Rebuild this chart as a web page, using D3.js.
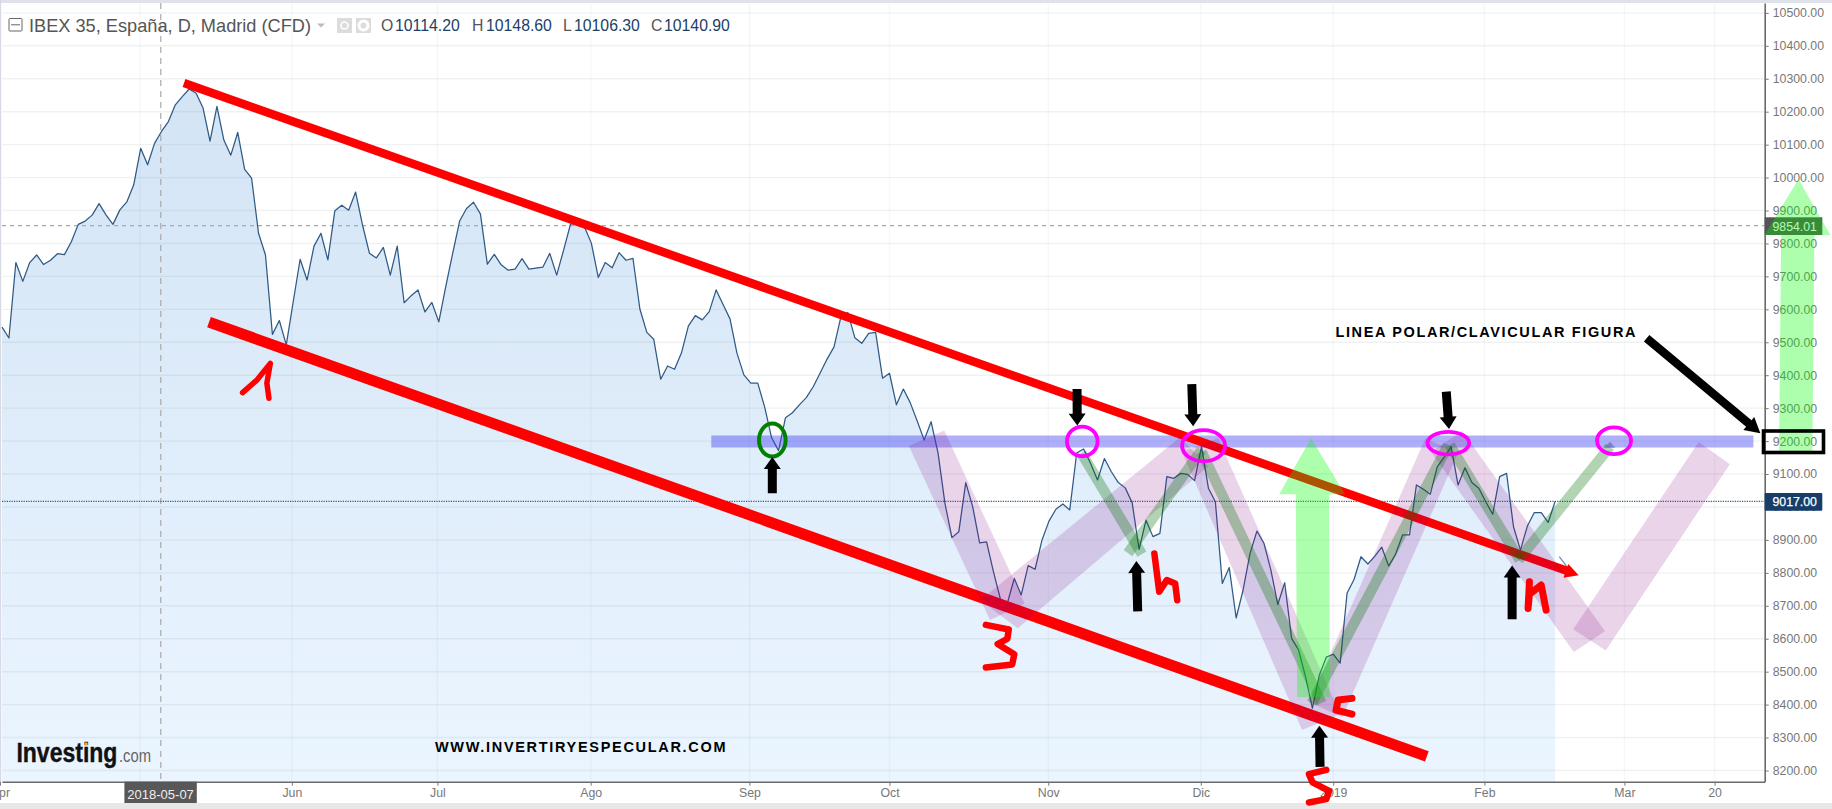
<!DOCTYPE html>
<html><head><meta charset="utf-8">
<script src="https://cdn.jsdelivr.net/npm/d3@7/dist/d3.min.js"></script>
<style>html,body{margin:0;padding:0;background:#fff;overflow:hidden}svg{display:block}text{font-family:"Liberation Sans",Arial,sans-serif}</style>
</head><body><svg id="c" width="1832" height="809"></svg>
<script>
// ---- closing prices, one per trading bar ----
const closes=[9546,9513,9742,9685,9742,9765,9736,9749,9769,9766,9805,9858,9868,9886,9921,9887,9858,9902,9926,9978,
10089,10039,10104,10140,10170,10221,10246,10269,10256,10211,10111,10216,10114,10068,10137,10025,9998,9831,9765,9524,
9566,9492,9623,9752,9689,9792,9831,9750,9899,9916,9901,9956,9856,9770,9756,9788,9704,9792,9620,9641,
9659,9592,9621,9562,9669,9770,9868,9906,9925,9890,9737,9767,9735,9719,9722,9754,9722,9725,9728,9770,
9704,9780,9859,9863,9851,9801,9697,9742,9726,9772,9749,9755,9601,9530,9509,9388,9428,9418,9468,9550,
9581,9568,9593,9659,9615,9571,9467,9401,9376,9376,9303,9210,9171,9271,9286,9310,9332,9365,9407,9449,
9486,9578,9590,9514,9497,9527,9530,9391,9406,9310,9358,9316,9261,9203,9259,9164,9011,8907,8925,9074,
9001,8891,8894,8803,8720,8708,8783,8733,8822,8811,8900,8957,8993,9009,8991,9164,9176,9133,9082,9147,
9107,9074,9058,9013,8871,8960,8910,8920,9092,9087,9102,9099,9080,9183,9057,9016,8768,8816,8663,8748,
8859,8927,8890,8809,8704,8770,8601,8566,8485,8389,8490,8544,8553,8526,8739,8780,8849,8827,8851,8878,
8821,8857,8915,8915,9067,9054,9039,9122,9151,9183,9067,9119,9074,9057,9016,8978,9092,9102,8940,8869,
8942,8983,8983,8953,9017];
const strayBars=[224.6,225.7], strayPrices=[8849,8819];
// ---- axes ----
const xTickBars=[-0.3,19.9,41.8,62.8,84.9,107.8,128,150.9,172.9,192,213.8,234,247];
const xTickLabels=["Apr","","Jun","Jul","Ago","Sep","Oct","Nov","Dic","2019","Feb","Mar","20"];
const yTicks=d3.range(8200,10501,100);
const lastPrice=9017, markPrice=9854.01, crossBar=22.9, crossLabel="2018-05-07";
const titleText="IBEX 35, España, D, Madrid (CFD)";
const ohlcNames=["O","H","L","C"], ohlcValues=["10114.20","10148.60","10106.30","10140.90"];
// ---- drawn analysis, as [bar, price] ----
const upperTrend=[[26.25,10287],[226.2,8802.5]];
const upperHead=[[227.4,8793],[225.9,8827],[225.2,8785]];
const lowerTrend=[[29.86,9561],[205.5,8243]];
const neckBand=[[102.3,9199],[252.6,9199]];
const purpleBands=[
 [[130.8,9185],[135.9,9232],[147.5,8707],[142.5,8657]],
 [[141.1,8717],[146.5,8632],[174,9124],[169.9,9212]],
 [[170.2,9167],[175.4,9209],[193,8371],[187.5,8323]],
 [[188.5,8408],[193.3,8362],[210,9164],[205.3,9209]],
 [[206.1,9167],[210.6,9231],[231.2,8623],[226.7,8560]],
 [[226.6,8629],[231.3,8564],[249.2,9130],[244.7,9197]]];
const greenLegs=[
 [[155.7,9163],[164.4,8857]],[[162.4,8860],[173,9173]],[[173,9168],[190.3,8405]],
 [[188.9,8404],[208.6,9188]],[[208.8,9188],[218.9,8839]],[[218.7,8839],[231.9,9183]]];
const targetArrowMid=[[188.8,9209],[193.7,9039],[191.4,9039],[191.5,8422],[186.8,8422],[186.6,9039],[184.2,9039]];
const targetArrowAxis=[[259.1,9995],[263.7,9826],[261.4,9826],[261.1,9168],[256.3,9168],[256.6,9826],[254.2,9826]];
const magentaRings=[[155.8,9199,15.3,14.8],[173.3,9186,21.5,15.5],[208.6,9194,20.8,11.3],[232.5,9201,17,13.3]];
const greenRing=[111.1,9203,13.3,16.5];
const blackArrows=[
 [[111.1,9042],[111.1,9152]],[[155.05,9358],[155.08,9247]],[[171.6,9373],[171.8,9245]],
 [[208.3,9350],[208.7,9237]],[[163.8,8683],[163.6,8836]],[[217.8,8659],[217.8,8822]],[[190.1,8211],[190,8336]]];
const longArrow=[[237.2,9512],[253.6,9224]];
const scribbles=[
 {w:5.5,p:[[34.7,9347],[36.8,9386],[38.7,9436],[38.2,9376],[38.5,9330]]},
 {w:6.5,p:[[141.9,8642],[145.2,8628],[145,8600],[143.6,8584],[146,8553],[145.7,8522],[141.9,8513]]},
 {w:6.5,p:[[166.2,8859],[166.9,8743],[168,8778],[169.2,8768],[169.5,8717]]},
 {w:7,p:[[194.7,8419],[192.7,8414],[192.4,8383],[194.7,8371]]},
 {w:7,p:[[220.3,8773],[220.1,8692],[220.3,8735],[222,8763],[222.7,8687]]},
 {w:6.5,p:[[191,8202],[188.5,8189],[189,8164],[191.4,8138],[191,8113],[188.5,8103]]}];
const capPatch=[[231.1,9180],[231.9,9198],[232.7,9180]];

// ---- scales ----
const svg=d3.select("#c");
const x=d3.scaleLinear().domain([0,254.2]).range([2,1764.5]);
const y=d3.scaleLinear().domain([8166,10530]).range([781.7,3]);
const pt=d=>[x(d[0]),y(d[1])];
const ln=d3.line();
const path=a=>ln(a.map(pt));
const closed=a=>path(a)+"Z";
const idx=closes.map((_,i)=>i);

// ---- frame ----
svg.append("rect").attr("width",1832).attr("height",809).attr("fill","#fff");
svg.append("rect").attr("x",0).attr("y",0).attr("width",1832).attr("height",3).attr("fill","#dfe2ea");
svg.append("rect").attr("x",0).attr("y",0).attr("width",1.2).attr("height",782).attr("fill","#d7dae3");
svg.append("rect").attr("x",0).attr("y",803).attr("width",1832).attr("height",6).attr("fill","#e7e7e7");

// ---- area ----
const defs=svg.append("defs");
const g=defs.append("linearGradient").attr("id","fill").attr("gradientUnits","userSpaceOnUse").attr("x1",0).attr("x2",0).attr("y1",85).attr("y2",781);
g.append("stop").attr("offset",0).attr("stop-color","#d3e4f5");
g.append("stop").attr("offset",1).attr("stop-color","#ebf5ff");
svg.append("path").attr("fill","url(#fill)")
  .attr("d",d3.area().x(i=>x(i)).y0(781.7).y1(i=>y(closes[i]))(idx));

// ---- grid ----
const grid=svg.append("g").attr("stroke","rgba(110,120,130,0.10)").attr("stroke-width",1.4);
yTicks.forEach(v=>grid.append("line").attr("x1",2).attr("x2",1764).attr("y1",y(v)).attr("y2",y(v)));
xTickBars.slice(1).forEach(b=>grid.append("line").attr("x1",x(b)).attr("x2",x(b)).attr("y1",3).attr("y2",781).attr("stroke","rgba(110,120,130,0.06)"));

// ---- reference lines ----
svg.append("line").attr("x1",2).attr("x2",1764).attr("y1",y(markPrice)).attr("y2",y(markPrice))
  .attr("stroke","#a9a9a9").attr("stroke-width",1.2).attr("stroke-dasharray","4 4");
svg.append("line").attr("x1",x(crossBar)).attr("x2",x(crossBar)).attr("y1",3).attr("y2",781)
  .attr("stroke","#a9a9a9").attr("stroke-width",1.2).attr("stroke-dasharray","6 5");
svg.append("line").attr("x1",2).attr("x2",1764).attr("y1",y(lastPrice)).attr("y2",y(lastPrice))
  .attr("stroke","#2f5b85").attr("stroke-width",1.2).attr("stroke-dasharray","1.2 1.2");

// ---- price line ----
svg.append("path").attr("fill","none").attr("stroke","#2f5a85").attr("stroke-width",1.25).attr("stroke-linejoin","round")
  .attr("d",d3.line().x(i=>x(i)).y(i=>y(closes[i]))(idx));
svg.append("path").attr("fill","none").attr("stroke","#6f8fc8").attr("stroke-width",1.3)
  .attr("d",path(strayBars.map((b,i)=>[b,strayPrices[i]])));

// ---- axes ----
const axX=svg.append("g").attr("transform","translate(0,781.7)")
  .call(d3.axisBottom(x).tickValues(xTickBars).tickFormat((d,i)=>xTickLabels[i]).tickSize(4).tickSizeOuter(0));
axX.select(".domain").attr("stroke","#6a6a6a").attr("stroke-width",1.6);
axX.selectAll(".tick line").attr("stroke","#777");
axX.selectAll(".tick text").attr("fill","#777").attr("font-size",12.3).attr("font-family","Liberation Sans").attr("dy","0.72em").attr("y",6.5);
const axY=svg.append("g").attr("transform","translate(1764.7,0)")
  .call(d3.axisRight(y).tickValues(yTicks).tickFormat(d3.format(".2f")).tickSize(4).tickSizeOuter(0));
axY.select(".domain").attr("stroke","#6a6a6a").attr("stroke-width",1.6);
axY.selectAll(".tick line").attr("stroke","#777");
axY.selectAll(".tick text").attr("fill","#777").attr("font-size",12.3).attr("font-family","Liberation Sans").attr("x",8);

// ---- header ----
svg.append("text").attr("x",29).attr("y",31.5).attr("font-size",18.2).attr("fill","#555").text(titleText);
svg.append("rect").attr("x",9).attr("y",18.5).attr("width",13).attr("height",12.5).attr("rx",1).attr("fill","#fff").attr("stroke","#666");
svg.append("line").attr("x1",11).attr("x2",20).attr("y1",24.8).attr("y2",24.8).attr("stroke","#666");
svg.append("path").attr("d","M317 23.5h8l-4 4z").attr("fill","#bbb");
[337,356].forEach((px,i)=>{
  svg.append("rect").attr("x",px).attr("y",18).attr("width",15).attr("height",15).attr("fill","#dcdcdc");
  svg.append("circle").attr("cx",px+7.5).attr("cy",25.5).attr("r",i?4.5:3.5).attr("fill","none").attr("stroke","#fff").attr("stroke-width",i?3:1.6);
});
const ohlcX=[381,472,563,651], ohlcVX=[395,486,574,664];
ohlcNames.forEach((n,i)=>{
  svg.append("text").attr("x",ohlcX[i]).attr("y",31).attr("font-size",15.8).attr("fill","#555").text(n);
  svg.append("text").attr("x",ohlcVX[i]).attr("y",31).attr("font-size",15.8).attr("fill","#1c3f66").text(ohlcValues[i]);
});

// ---- crosshair date label ----
svg.append("rect").attr("x",124.4).attr("y",781.7).attr("width",72.4).attr("height",21.3).attr("fill","#585858");
svg.append("text").attr("x",160.6).attr("y",799).attr("text-anchor","middle").attr("font-size",13).attr("fill","#eee").text(crossLabel);

// ---- price tags ----
svg.append("rect").attr("x",1764.7).attr("y",217.3).attr("width",57.6).attr("height",17.7).attr("fill","#555");
svg.append("text").attr("x",1772.5).attr("y",230.5).attr("font-size",12.3).attr("fill","#fff").text(markPrice.toFixed(2));
svg.append("rect").attr("x",1764.7).attr("y",493).attr("width",57.6).attr("height",17.7).attr("rx",1).attr("fill","#163e6b");
svg.append("text").attr("x",1772.5).attr("y",506.3).attr("font-size",12.3).attr("fill","#fff").attr("stroke","#fff").attr("stroke-width",.25).text(lastPrice.toFixed(2));

// ---- watermark ----
svg.append("text").attr("x",16.4).attr("y",762).attr("font-size",28).attr("font-weight","bold").attr("fill","#111")
  .attr("stroke","#111").attr("stroke-width",.4)
  .attr("textLength",101).attr("lengthAdjust","spacingAndGlyphs").text("Investing");
svg.append("text").attr("x",119).attr("y",762).attr("font-size",18).attr("fill","#666")
  .attr("textLength",32).attr("lengthAdjust","spacingAndGlyphs").text(".com");
svg.append("circle").attr("cx",86).attr("cy",744).attr("r",1.8).attr("fill","#f5a623");

// ---- analysis: red channel below translucent bands ----
svg.append("path").attr("d",path(neckBand)).attr("stroke","#3636f0").attr("stroke-opacity",.4).attr("stroke-width",12).attr("fill","none");
svg.append("path").attr("d",path(upperTrend)).attr("stroke","#f00").attr("stroke-width",8.5).attr("fill","none");
svg.append("path").attr("d",closed(upperHead)).attr("fill","#f00");
svg.append("path").attr("d",path(lowerTrend)).attr("stroke","#f00").attr("stroke-width",11).attr("fill","none");
purpleBands.forEach(b=>svg.append("path").attr("d",closed(b)).attr("fill","#800080").attr("fill-opacity",.17));
greenLegs.forEach(b=>svg.append("path").attr("d",path(b)).attr("stroke","#007000").attr("stroke-opacity",.3).attr("stroke-width",10.5).attr("fill","none"));
svg.append("path").attr("d",closed(capPatch)).attr("fill","#5b6fb5").attr("fill-opacity",.7);
[targetArrowMid,targetArrowAxis].forEach(a=>svg.append("path").attr("d",closed(a)).attr("fill","#00ff00").attr("fill-opacity",.32));

// rings
magentaRings.forEach(r=>svg.append("ellipse").attr("cx",x(r[0])).attr("cy",y(r[1])).attr("rx",r[2]).attr("ry",r[3])
  .attr("fill","none").attr("stroke","#ff00ff").attr("stroke-width",3.8));
svg.append("ellipse").attr("cx",x(greenRing[0])).attr("cy",y(greenRing[1])).attr("rx",greenRing[2]).attr("ry",greenRing[3])
  .attr("fill","none").attr("stroke","#008000").attr("stroke-width",4);

// black arrows
function arrow(seg,shaftW,headW,headL){
  const [tx,ty]=pt(seg[0]),[hx,hy]=pt(seg[1]);
  const L=Math.hypot(hx-tx,hy-ty),ux=(hx-tx)/L,uy=(hy-ty)/L,nx=-uy,ny=ux;
  const bx=hx-ux*headL,by=hy-uy*headL;
  const P=[[tx+nx*shaftW/2,ty+ny*shaftW/2],[bx+nx*shaftW/2,by+ny*shaftW/2],[bx+nx*headW/2,by+ny*headW/2],[hx,hy],
           [bx-nx*headW/2,by-ny*headW/2],[bx-nx*shaftW/2,by-ny*shaftW/2],[tx-nx*shaftW/2,ty-ny*shaftW/2]];
  svg.append("path").attr("d",ln(P)+"Z").attr("fill","#000");
}
blackArrows.forEach(a=>arrow(a,9,17,12));
arrow(longArrow,8.5,17,15);
svg.append("rect").attr("x",1763.5).attr("y",431).attr("width",60).attr("height",21.5).attr("fill","none").attr("stroke","#000").attr("stroke-width",3.6);

// hand-drawn counts
scribbles.forEach(s=>svg.append("path").attr("d",path(s.p)).attr("fill","none").attr("stroke","#f00").attr("stroke-width",s.w)
  .attr("stroke-linecap","round").attr("stroke-linejoin","round"));

// notes
svg.append("text").attr("x",1335.5).attr("y",337).attr("font-size",14.5).attr("font-weight","bold").attr("fill","#000")
  .attr("textLength",300).attr("lengthAdjust","spacing").text("LINEA POLAR/CLAVICULAR FIGURA");
svg.append("text").attr("x",435).attr("y",751.5).attr("font-size",14.5).attr("font-weight","bold").attr("fill","#000")
  .attr("textLength",290.5).attr("lengthAdjust","spacing").text("WWW.INVERTIRYESPECULAR.COM");
</script></body></html>
